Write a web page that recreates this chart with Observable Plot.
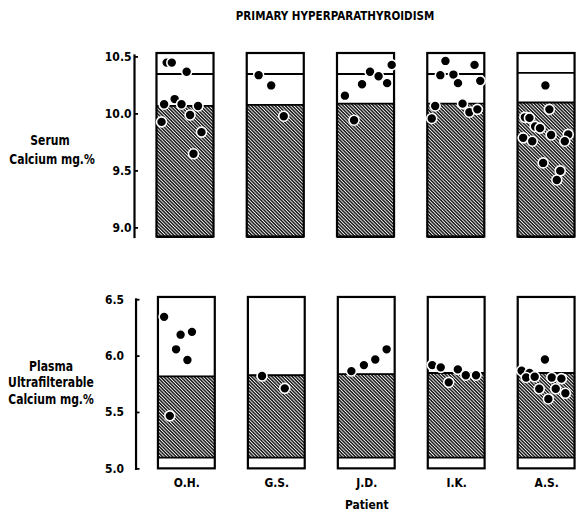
<!DOCTYPE html>
<html><head><meta charset="utf-8">
<script src="https://cdn.jsdelivr.net/npm/d3@7"></script>
<script src="https://cdn.jsdelivr.net/npm/@observablehq/plot@0.6"></script>
<style>
body{margin:0;background:#fff;}
#root{position:relative;width:577px;height:516px;overflow:hidden;font-family:"DejaVu Sans Condensed","DejaVu Sans",sans-serif;font-weight:bold;color:#000;}
.lbl{position:absolute;white-space:nowrap;font-size:12px;line-height:12px;transform:translateX(-50%) scaleY(1.15);transform-origin:50% 85%;}
.title{font-size:11.5px;line-height:11.5px;transform:translateX(-50%);}
.panel{position:absolute;}
</style></head><body>
<svg width="0" height="0" style="position:absolute">
  <defs>
    <pattern id="hatch" patternUnits="userSpaceOnUse" width="2.4" height="2.4" patternTransform="rotate(45)">
      <rect width="2.4" height="2.4" fill="#f4f4f4"/>
      <rect width="2.4" height="1.5" fill="#1a1a1a"/>
    </pattern>
  </defs>
</svg>
<div id="root">
  <div class="lbl title" style="left:335px;top:11px">PRIMARY HYPERPARATHYROIDISM</div>
  <div class="lbl" style="left:50px;top:135px">Serum</div>
  <div class="lbl" style="left:52px;top:154px">Calcium mg.%</div>
  <div class="lbl" style="left:51px;top:361px">Plasma</div>
  <div class="lbl" style="left:51px;top:377px">Ultrafilterable</div>
  <div class="lbl" style="left:51px;top:394px">Calcium mg.%</div>
  <div id="top" class="panel" style="left:0;top:40px"></div>
  <div id="bottom" class="panel" style="left:2px;top:285px"></div>
</div>
<script>
// ---- data ----
const patients = ["O.H.", "G.S.", "J.D.", "I.K.", "A.S."];
const serumTicks = [9.0, 9.5, 10.0, 10.5];
const plasmaTicks = [5.0, 5.5, 6.0, 6.5];
const serumBox = [8.92, 10.53];
const plasmaBox = [5.0, 6.52];
const serumHatchTop = [10.07, 10.08, 10.09, 10.09, 10.1];
const serumUpperLine = [10.35, 10.35, 10.35, 10.35, 10.36];
const plasmaHatchLow = [5.1, 5.1, 5.1, 5.1, 5.1];
const plasmaHatchHigh = [5.82, 5.83, 5.84, 5.85, 5.85];

// serum calcium determinations (mg.%) per patient, and their sequence across the box (0..1)
const serumValues = [
  [10.45, 10.45, 10.37, 10.085, 10.13, 10.085, 10.07, 9.99, 9.93, 9.84, 9.65],
  [10.34, 10.25, 9.98],
  [10.43, 10.37, 10.33, 10.27, 10.26, 10.16, 9.945],
  [10.465, 10.43, 10.34, 10.345, 10.27, 10.29, 10.07, 10.09, 10.015, 10.04, 9.96],
  [10.25, 10.04, 9.97, 9.965, 9.89, 9.875, 9.79, 9.76, 9.815, 9.82, 9.76, 9.57, 9.5, 9.42]
];
const serumSeq = [
  [0.17, 0.26, 0.52, 0.125, 0.31, 0.43, 0.72, 0.58, 0.08, 0.78, 0.64],
  [0.2, 0.42, 0.64],
  [0.95, 0.57, 0.72, 0.87, 0.43, 0.13, 0.29],
  [0.31, 0.82, 0.22, 0.45, 0.53, 0.92, 0.13, 0.61, 0.73, 0.87, 0.07],
  [0.48, 0.55, 0.12, 0.2, 0.3, 0.385, 0.09, 0.25, 0.58, 0.88, 0.82, 0.44, 0.74, 0.68]
];
// plasma ultrafilterable calcium (mg.%)
const plasmaValues = [
  [6.348, 6.19, 6.215, 6.06, 5.965, 5.47],
  [5.823, 5.714],
  [5.867, 5.92, 5.97, 6.06],
  [5.92, 5.9, 5.882, 5.767, 5.83, 5.83],
  [5.97, 5.87, 5.85, 5.81, 5.817, 5.81, 5.8, 5.71, 5.71, 5.67, 5.62]
];
const plasmaSeq = [
  [0.1, 0.39, 0.59, 0.31, 0.51, 0.2],
  [0.24, 0.64],
  [0.23, 0.45, 0.65, 0.85],
  [0.07, 0.22, 0.52, 0.36, 0.66, 0.84],
  [0.47, 0.06, 0.2, 0.14, 0.29, 0.59, 0.76, 0.37, 0.66, 0.83, 0.53]
];

// ---- drawing ----
const boxWidth = 0.632;
const hw = boxWidth / 2;

function panel({values, seq, box, ticks, low, high, upper, height, marginTop, marginBottom, tickPadding, bottomAxis}) {
  const boxes = patients.map((p, i) => ({i, p, lo: low[i], hi: high[i], up: upper ? upper[i] : null}));
  const dots = values.flatMap((vs, i) => vs.map((v, j) => ({i, v, s: seq[i][j]})));
  const marks = [
    Plot.rect(boxes, {x1: d => d.i - hw, x2: d => d.i + hw, y1: "lo", y2: "hi", fill: "url(#hatch)"}),
    Plot.ruleY(boxes, {y: "hi", x1: d => d.i - hw, x2: d => d.i + hw, stroke: "black", strokeWidth: 1.8}),
    Plot.ruleY(boxes, {y: "lo", x1: d => d.i - hw, x2: d => d.i + hw, stroke: "black", strokeWidth: 1.8}),
  ];
  if (upper) marks.push(Plot.ruleY(boxes, {y: "up", x1: d => d.i - hw, x2: d => d.i + hw, stroke: "black", strokeWidth: 1.8}));
  marks.push(
    Plot.rect(boxes, {x1: d => d.i - hw, x2: d => d.i + hw, y1: () => box[0], y2: () => box[1], fill: "none", stroke: "black", strokeWidth: 2.2}),
    Plot.frame({anchor: "left", stroke: "black", strokeWidth: 2.2, insetTop: 2}),
    Plot.axisY(ticks, {tickSize: -4, tickPadding, tickFormat: d => d.toFixed(1), strokeWidth: 1.8, label: null}),
    Plot.dot(dots, {x: d => d.i + (d.s - 0.5) * boxWidth, y: "v", r: 5, fill: "black", stroke: "white", strokeWidth: 1.6})
  );
  if (bottomAxis) {
    marks.push(
      Plot.axisX(patients.map((p, i) => i), {tickSize: 0, tickPadding: 9.5, tickFormat: i => patients[i], label: null}),
      Plot.text(["Patient"], {x: () => 2, text: d => d, frameAnchor: "bottom", dy: 40})
    );
  }
  return Plot.plot({
    width: 577, height, marginLeft: 134, marginRight: 0, marginTop, marginBottom,
    x: {domain: [-0.565, 4.343], axis: null},
    y: {domain: box, axis: null},
    style: {fontFamily: '"DejaVu Sans Condensed","DejaVu Sans",sans-serif', fontSize: "12px", fontWeight: "bold", color: "black", background: "transparent", overflow: "visible"},
    marks
  });
}

document.getElementById("top").append(panel({
  values: serumValues, seq: serumSeq, box: serumBox, ticks: serumTicks,
  low: patients.map(() => serumBox[0]), high: serumHatchTop, upper: serumUpperLine,
  height: 209, marginTop: 13, marginBottom: 12.5, tickPadding: 7, bottomAxis: false
}));
document.getElementById("bottom").append(panel({
  values: plasmaValues, seq: plasmaSeq, box: plasmaBox, ticks: plasmaTicks,
  low: plasmaHatchLow, high: plasmaHatchHigh, upper: null,
  height: 231, marginTop: 12, marginBottom: 47, tickPadding: 16, bottomAxis: true
}));
</script>
</body></html>
